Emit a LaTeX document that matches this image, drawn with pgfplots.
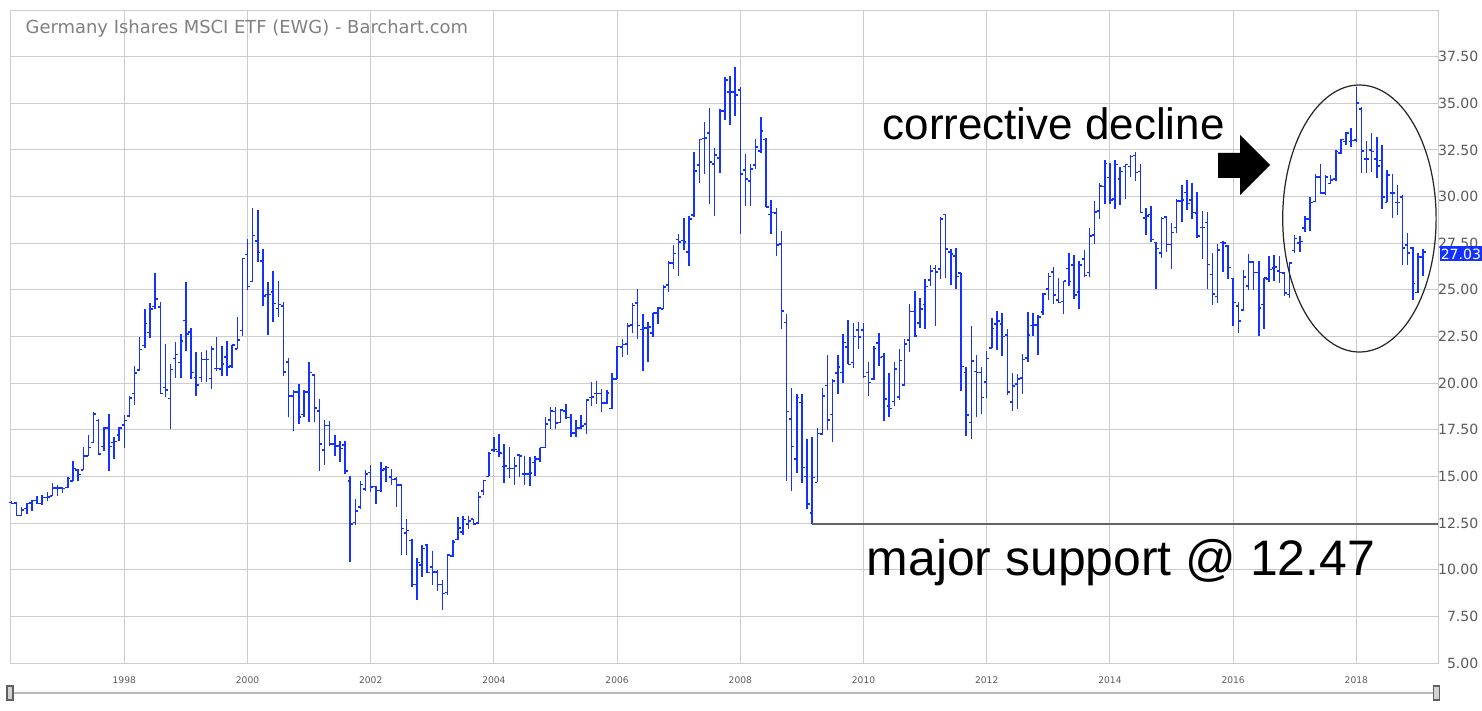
\documentclass[border=0pt]{standalone}
\usepackage{pgfplots}
\pgfplotsset{compat=1.18}
\usepackage{pgfplotstable}
\usepackage{fontspec}
\setmainfont{DejaVu Sans}
\newfontfamily\annfont{Liberation Sans}
\definecolor{barblue}{RGB}{20,50,255}
\definecolor{gridgray}{RGB}{204,204,204}
\definecolor{labgray}{RGB}{90,90,90}
\definecolor{titlegray}{RGB}{128,128,128}
\definecolor{supgray}{RGB}{100,100,100}

\pgfdeclareplotmark{ohlcopen}{\pgfpathmoveto{\pgfpoint{-\pgfplotmarksize}{0pt}}\pgfpathlineto{\pgfpoint{0pt}{0pt}}\pgfusepathqstroke}
\pgfdeclareplotmark{ohlcclose}{\pgfpathmoveto{\pgfpoint{0pt}{0pt}}\pgfpathlineto{\pgfpoint{\pgfplotmarksize}{0pt}}\pgfusepathqstroke}

% i = months since Jan 1996; o h l c
\pgfplotstableread{
i o h l c
2 13.60 13.70 13.50 13.55
3 13.57 13.60 12.86 12.90
4 12.90 13.34 12.86 13.20
5 13.29 13.60 13.00 13.55
6 13.57 13.75 13.16 13.70
7 13.70 13.93 13.52 13.55
8 13.55 14.00 13.46 13.86
9 13.86 14.14 13.70 13.90
10 13.96 14.63 13.96 14.38
11 14.38 14.54 13.93 14.38
12 14.38 14.45 14.09 14.35
13 14.40 14.95 14.36 14.90
14 14.77 15.82 14.73 15.43
15 15.33 15.39 14.77 15.10
16 15.36 16.57 15.36 16.11
17 16.11 17.21 16.11 16.55
18 16.82 18.43 16.82 18.34
19 18.00 18.07 16.16 16.20
20 16.60 17.63 16.34 17.59
21 17.59 18.34 15.30 16.60
22 16.82 17.14 15.96 16.88
23 17.21 17.66 16.91 17.59
24 17.75 18.29 16.54 18.00
25 18.25 19.32 18.16 19.21
26 19.45 20.93 18.84 20.54
27 20.70 22.48 20.66 21.80
28 22.02 23.96 21.88 23.20
29 22.71 24.29 22.43 23.96
30 24.11 25.89 23.96 24.50
31 24.07 24.36 19.43 19.45
32 19.77 22.11 19.25 19.63
33 19.18 21.02 17.54 20.73
34 21.32 22.21 20.29 21.54
35 21.11 22.64 20.29 22.25
36 23.36 25.41 21.73 22.63
37 22.75 22.95 20.23 20.57
38 20.30 21.68 19.32 19.89
39 20.30 21.68 20.07 21.27
40 21.27 21.77 20.04 21.27
41 20.25 21.98 19.66 21.84
42 20.79 22.45 20.66 20.79
43 20.75 21.98 20.39 21.02
44 21.41 22.25 20.39 20.88
45 20.93 22.05 20.79 22.04
46 21.82 23.54 21.82 22.30
47 22.82 26.68 22.54 26.68
48 26.89 27.71 25.00 25.18
49 25.44 29.41 25.40 27.92
50 27.61 29.30 26.52 27.00
51 26.54 27.18 24.15 24.67
52 24.76 25.40 22.60 24.76
53 24.87 25.99 23.30 24.28
54 24.00 25.47 23.57 24.22
55 24.12 24.33 20.38 20.59
56 21.13 21.36 18.17 19.31
57 19.31 19.64 17.42 19.52
58 19.52 19.95 17.79 18.20
59 18.33 19.64 18.17 19.52
60 19.52 21.16 17.92 20.56
61 20.43 20.50 17.92 18.66
62 18.50 19.16 15.28 16.74
63 16.42 18.04 15.60 17.74
64 17.74 17.99 16.62 16.74
65 16.74 17.24 16.10 16.63
66 16.63 16.88 15.76 16.49
67 16.69 16.88 15.12 15.30
68 14.76 15.05 10.41 12.46
69 12.53 13.77 12.39 13.15
70 13.35 14.78 13.28 14.57
71 14.33 15.37 14.21 15.13
72 15.21 15.63 14.18 14.44
73 14.46 14.51 13.50 14.24
74 14.24 15.79 14.19 15.35
75 15.40 15.56 14.69 15.49
76 14.96 15.40 14.56 14.83
77 14.87 14.96 13.34 14.55
78 14.55 14.55 10.77 12.20
79 11.97 12.73 10.77 12.10
80 11.57 11.66 9.08 9.21
81 9.21 10.63 8.37 10.38
82 10.24 11.30 9.62 11.13
83 11.34 11.39 9.80 9.85
84 10.15 10.99 9.17 9.88
85 9.88 9.96 8.85 9.21
86 9.21 9.44 7.85 8.73
87 8.78 10.86 8.64 10.80
88 10.74 11.57 10.68 11.48
89 11.63 12.82 11.57 12.23
90 12.02 12.87 11.84 12.70
91 12.46 12.87 12.20 12.60
92 12.73 12.73 12.41 12.46
93 12.50 14.19 12.46 13.89
94 14.23 14.81 13.98 14.78
95 15.00 16.29 15.00 16.24
96 16.41 17.14 16.29 16.45
97 16.34 17.27 16.02 16.25
98 15.54 16.73 14.64 15.57
99 15.43 16.59 14.91 15.43
100 15.43 16.02 14.55 15.57
101 16.14 16.20 14.95 16.11
102 15.13 16.11 14.54 15.13
103 15.13 16.02 14.50 15.18
104 15.75 16.11 15.04 15.93
105 15.93 16.55 15.75 16.55
106 16.54 18.20 16.50 17.80
107 18.04 18.70 17.54 18.52
108 18.48 18.70 17.54 17.86
109 17.89 18.61 17.89 18.55
110 18.52 18.88 18.07 18.16
111 18.16 18.34 17.14 17.32
112 17.32 18.04 17.14 17.59
113 17.59 18.29 17.54 17.71
114 17.80 19.14 17.30 19.11
115 19.23 20.04 18.79 19.27
116 19.45 20.13 18.88 19.45
117 19.45 19.71 18.46 18.93
118 18.93 19.63 18.86 19.46
119 18.64 20.57 18.64 20.21
120 20.21 22.00 20.21 21.96
121 21.95 22.38 21.40 22.08
122 22.11 23.20 21.51 23.06
123 23.13 24.31 22.70 24.16
124 24.31 25.05 22.38 23.09
125 22.88 23.68 20.65 22.95
126 22.95 23.29 21.13 23.00
127 22.70 23.77 22.49 23.77
128 23.77 24.08 23.15 24.04
129 23.98 25.27 23.95 25.16
130 25.25 26.57 24.88 26.44
131 26.44 27.42 26.12 26.94
132 27.69 27.99 25.73 27.57
133 27.64 28.85 27.12 27.57
134 27.03 28.97 26.27 28.80
135 29.01 32.40 28.90 31.36
136 31.68 33.07 30.72 33.07
137 33.11 34.00 31.22 33.13
138 33.41 34.75 29.62 31.84
139 31.74 32.59 28.98 32.22
140 32.06 34.68 31.29 34.59
141 34.59 36.43 34.11 36.25
142 35.62 36.46 33.84 35.59
143 35.59 36.95 34.32 35.43
144 35.71 35.86 28.01 31.20
145 31.43 32.29 29.47 30.94
146 30.85 31.76 29.51 31.47
147 31.68 33.09 31.49 32.65
148 32.43 34.27 32.33 33.50
149 33.07 33.15 29.44 29.44
150 29.03 29.83 28.01 29.15
151 29.12 29.40 26.80 27.42
152 27.46 28.17 22.88 23.86
153 23.24 23.73 14.77 18.48
154 18.07 19.72 14.23 16.60
155 15.93 19.40 15.21 19.22
156 18.96 19.40 14.64 15.48
157 15.00 17.00 13.25 13.52
158 13.04 17.09 12.47 14.95
159 14.68 17.62 14.68 17.30
160 17.26 19.76 17.21 19.31
161 19.88 21.49 17.50 18.01
162 18.33 20.24 16.82 20.12
163 20.53 21.49 19.40 20.88
164 20.56 22.66 20.03 22.17
165 21.95 23.41 21.01 21.01
166 21.10 23.20 20.83 22.49
167 22.86 23.29 21.84 22.47
168 22.86 23.24 20.29 20.35
169 20.57 21.11 19.32 20.04
170 20.21 22.00 20.18 21.86
171 22.14 22.68 20.93 21.38
172 21.43 21.61 17.98 19.14
173 18.79 20.54 18.16 18.64
174 19.02 21.11 18.79 20.75
175 19.27 21.82 19.11 21.21
176 19.89 22.36 19.86 22.09
177 22.30 24.23 21.68 23.84
178 23.84 24.95 22.45 22.54
179 23.21 24.55 22.98 23.96
180 24.21 25.57 22.89 25.18
181 25.52 26.32 25.21 26.02
182 26.14 26.32 23.07 25.96
183 26.11 28.88 25.57 28.79
184 29.05 29.05 25.66 27.18
185 27.04 27.18 25.25 26.91
186 26.82 27.23 25.07 25.71
187 25.89 25.89 19.59 20.89
188 20.57 20.84 17.18 18.29
189 17.89 23.07 17.00 21.20
190 20.63 21.50 18.16 20.57
191 20.57 20.84 18.34 19.23
192 20.07 21.73 19.23 21.32
193 21.87 23.49 21.87 22.94
194 23.16 23.85 21.75 23.32
195 23.17 23.76 21.44 22.51
196 22.58 22.91 19.34 19.52
197 18.98 20.55 18.50 19.84
198 19.95 20.50 18.59 20.23
199 20.27 21.57 19.43 21.27
200 21.34 23.83 21.16 22.58
201 23.10 23.76 22.55 23.13
202 23.12 23.65 21.53 23.53
203 23.80 24.81 23.65 24.78
204 25.04 25.90 24.47 25.72
205 25.97 26.24 24.24 24.72
206 24.47 25.63 24.28 24.33
207 24.37 25.49 23.71 25.47
208 26.15 26.97 25.22 25.45
209 26.33 26.86 24.51 24.72
210 24.90 26.54 23.97 26.33
211 26.65 27.15 25.67 25.76
212 25.94 28.29 25.67 27.90
213 27.93 29.77 27.45 29.18
214 29.23 30.71 28.82 30.57
215 30.53 31.96 29.59 31.78
216 31.02 31.79 29.62 29.82
217 29.86 31.96 29.32 31.73
218 30.93 31.61 29.54 31.34
219 31.61 31.73 29.86 31.73
220 31.61 32.21 31.05 32.14
221 32.21 32.41 30.84 31.29
222 31.34 31.73 29.14 29.14
223 28.84 29.41 27.93 28.96
224 29.04 29.48 27.57 27.71
225 27.54 27.57 25.04 27.21
226 26.98 28.93 26.73 28.82
227 28.91 28.96 27.04 27.43
228 27.43 28.57 26.11 28.07
229 28.34 29.86 28.07 29.77
230 29.77 30.61 28.64 29.82
231 30.21 30.88 29.29 29.63
232 29.82 30.71 28.79 29.14
233 29.11 30.25 27.79 27.89
234 28.34 29.21 26.68 28.34
235 28.61 29.18 25.04 26.36
236 25.82 26.96 24.20 24.77
237 24.64 27.45 24.30 27.13
238 27.54 27.61 25.96 27.50
239 27.36 27.39 25.57 26.20
240 25.61 25.61 23.07 24.32
241 24.14 24.36 22.71 23.34
242 23.91 26.09 23.86 25.70
243 25.20 26.93 24.98 26.48
244 26.48 26.53 24.98 25.93
245 25.93 26.53 22.52 24.04
246 24.22 25.64 22.91 25.64
247 25.59 26.80 25.43 26.09
248 26.18 26.89 25.46 26.23
249 26.00 26.80 25.37 25.94
250 25.91 25.94 24.66 24.84
251 24.75 26.48 24.57 26.44
252 27.10 27.96 26.95 27.75
253 27.51 27.91 27.01 27.60
254 28.32 28.94 28.08 28.80
255 28.80 29.97 28.13 29.69
256 29.74 31.20 29.69 31.04
257 31.04 31.76 30.15 30.19
258 30.19 31.17 30.10 31.04
259 30.69 31.17 30.69 30.90
260 30.94 32.47 30.81 32.42
261 32.33 33.07 32.29 33.07
262 32.95 33.48 32.77 33.40
263 32.95 33.66 32.68 33.00
264 33.04 35.89 32.90 35.00
265 34.68 34.79 31.26 32.45
266 32.00 32.98 31.29 32.00
267 32.50 33.43 31.34 32.42
268 32.00 33.18 31.02 31.65
269 31.93 32.77 29.33 29.97
270 29.69 31.43 29.69 31.17
271 30.18 31.20 28.85 30.18
272 29.69 30.63 29.03 29.69
273 29.97 30.10 26.35 27.25
274 27.42 28.05 26.35 26.98
275 27.23 27.29 24.48 25.34
276 24.86 27.00 24.82 26.76
277 26.76 27.18 25.73 27.03
}\ewg

\begin{document}
\begin{tikzpicture}
\useasboundingbox (0,0) rectangle (14.82cm,7.10cm);
\begin{axis}[
  at={(0.10cm,0.47cm)}, anchor=south west,
  scale only axis, width=14.28cm, height=6.53cm,
  xmin=1996.1445, xmax=2019.326, ymin=5, ymax=40,
  xtick={1998,2000,...,2018},
  xticklabels={1998,2000,2002,2004,2006,2008,2010,2012,2014,2016,2018},
  ytick={5,7.5,...,37.5},
  yticklabels={5.00,7.50,10.00,12.50,15.00,17.50,20.00,22.50,25.00,27.50,30.00,32.50,35.00,37.50},
  yticklabel pos=right,
  grid=major,
  grid style={gridgray, line width=0.28pt},
  axis line style={gridgray, line width=0.28pt},
  major tick length=0pt,
  tick style={draw=none},
  xticklabel style={font=\fontsize{2.6}{3.1}\selectfont, text=labgray, anchor=center, yshift=-0.17cm},
  yticklabel style={font=\fontsize{4}{4.8}\selectfont, text=labgray, anchor=east, inner sep=0pt, xshift=0.41cm},
]
\addplot[draw=none, mark=none, forget plot,
  error bars/.cd, y dir=plus, y explicit,
  error bar style={draw=barblue, solid, line width=0.42pt}, error mark=none]
  table[x expr=1996+\thisrow{i}/12, y=l, y error plus expr=\thisrow{h}-\thisrow{l}] {\ewg};
\addplot[only marks, mark=ohlcopen, mark size=0.75pt, color=barblue, mark options={line width=0.45pt, solid}]
  table[x expr=1996+\thisrow{i}/12, y=o] {\ewg};
\addplot[only marks, mark=ohlcclose, mark size=0.75pt, color=barblue, mark options={line width=0.45pt, solid}]
  table[x expr=1996+\thisrow{i}/12, y=c] {\ewg};
\addplot[supgray, line width=0.6pt, mark=none] coordinates {(2009.17,12.47) (2019.5,12.47)};
\end{axis}
% title
\node[anchor=base west, text=titlegray, font=\fontsize{5.1}{6}\selectfont, inner sep=0pt] at (0.25cm,6.76cm) {Germany Ishares MSCI ETF (EWG) - Barchart.com};
% annotations
\node[anchor=base west, inner sep=0pt, font=\annfont\fontsize{12.5}{15}\selectfont] at (8.82cm,5.70cm) {corrective decline};
\node[anchor=base west, inner sep=0pt, font=\annfont\fontsize{14.2}{17}\selectfont] at (8.66cm,1.35cm) {major support @ 12.47};
\fill[black] (12.18cm,5.57cm) -- (12.40cm,5.57cm) -- (12.40cm,5.75cm) -- (12.70cm,5.45cm) -- (12.40cm,5.15cm) -- (12.40cm,5.32cm) -- (12.18cm,5.32cm) -- cycle;
\draw[black!85, line width=0.35pt] (13.594cm,4.915cm) ellipse [x radius=0.767cm, y radius=1.335cm];
% last price tag
\node[fill=barblue, text=white, font=\fontsize{4}{4.8}\selectfont, inner sep=0.3pt, minimum width=0.40cm, minimum height=0.15cm, anchor=west] at (14.39cm,4.56cm) {27.03};
% scrollbar
\draw[gray!55, line width=0.35pt] (0.10cm,0.17cm) -- (14.37cm,0.17cm);
\filldraw[fill=gray!35, draw=gray!75!black, line width=0.3pt] (0.07cm,0.10cm) rectangle (0.13cm,0.24cm);
\filldraw[fill=gray!35, draw=gray!75!black, line width=0.3pt] (14.33cm,0.10cm) rectangle (14.39cm,0.24cm);
\end{tikzpicture}
\end{document}
